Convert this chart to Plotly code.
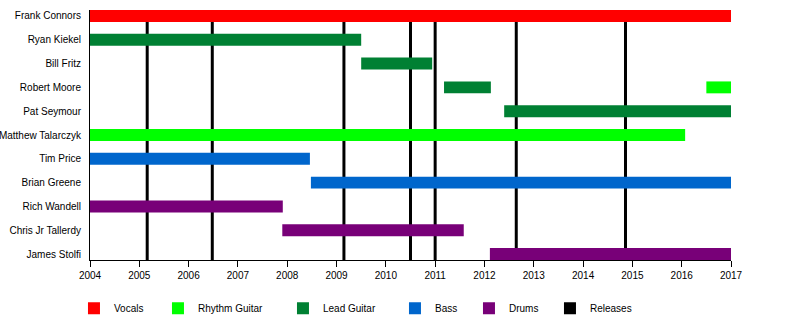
import plotly.graph_objects as go

members = ["Frank Connors", "Ryan Kiekel", "Bill Fritz", "Robert Moore", "Pat Seymour",
           "Matthew Talarczyk", "Tim Price", "Brian Greene", "Rich Wandell",
           "Chris Jr Tallerdy", "James Stolfi"]

vocals_who = ["Frank Connors"]
vocals_start = [2004.0]
vocals_end = [2017.0]

rhythm_who = ["Robert Moore", "Matthew Talarczyk"]
rhythm_start = [2016.5, 2004.0]
rhythm_end = [2017.0, 2016.07]

lead_who = ["Ryan Kiekel", "Bill Fritz", "Robert Moore", "Pat Seymour"]
lead_start = [2004.0, 2009.5, 2011.18, 2012.4]
lead_end = [2009.5, 2010.94, 2012.13, 2017.0]

bass_who = ["Tim Price", "Brian Greene"]
bass_start = [2004.0, 2008.48]
bass_end = [2008.46, 2017.0]

drums_who = ["Rich Wandell", "Chris Jr Tallerdy", "James Stolfi"]
drums_start = [2004.0, 2007.9, 2012.11]
drums_end = [2007.91, 2011.58, 2017.0]

releases = [2005.16, 2006.48, 2009.15, 2010.5, 2011.0, 2012.645, 2014.86]

year_ticks = list(range(2004, 2018))

roles = [
    ("Vocals", "#FF0000", vocals_who, vocals_start, vocals_end, 39),
    ("Rhythm Guitar", "#00FF00", rhythm_who, rhythm_start, rhythm_end, 80),
    ("Lead Guitar", "#008033", lead_who, lead_start, lead_end, 67),
    ("Bass", "#0066CC", bass_who, bass_start, bass_end, 29),
    ("Drums", "#780078", drums_who, drums_start, drums_end, 36),
]

fig = go.Figure()
for name, color, who, s, e, lw in roles:
    fig.add_trace(go.Bar(
        name=name, orientation="h", y=who, base=s,
        x=[b - a for a, b in zip(s, e)],
        marker=dict(color=color, line=dict(width=0)),
        width=0.5, legendwidth=lw, hoverinfo="skip",
    ))

fig.add_trace(go.Bar(name="Releases", orientation="h", y=[None], x=[None],
                     marker=dict(color="#000000", line=dict(width=0)), hoverinfo="skip"))

for r in releases:
    fig.add_shape(type="line", xref="x", yref="paper", x0=r, x1=r, y0=0, y1=1,
                  line=dict(color="black", width=3), layer="below")

fig.update_layout(
    width=800, height=320,
    margin=dict(l=90, r=69, t=10, b=60, autoexpand=False),
    paper_bgcolor="white", plot_bgcolor="white",
    font=dict(family="Liberation Sans, Arial, sans-serif", size=10, color="black"),
    barmode="overlay",
    showlegend=True,
    legend=dict(orientation="h", x=-0.025, xanchor="left", y=-0.135, yanchor="top",
                bgcolor="rgba(0,0,0,0)", font=dict(size=10), traceorder="normal"),
    xaxis=dict(range=[2004, 2017], tickvals=year_ticks, ticktext=[str(y) for y in year_ticks],
               ticks="outside", ticklen=6, tickcolor="black", showline=True, linecolor="black",
               linewidth=1, showgrid=False, zeroline=False, automargin=False),
    yaxis=dict(type="category", categoryorder="array", categoryarray=members[::-1],
               range=[-0.25, 10.25], showline=True, linecolor="black", linewidth=1,
               showgrid=False, zeroline=False, ticks="", ticklabelstandoff=6, automargin=False),
)

fig.write_html("out.html")
